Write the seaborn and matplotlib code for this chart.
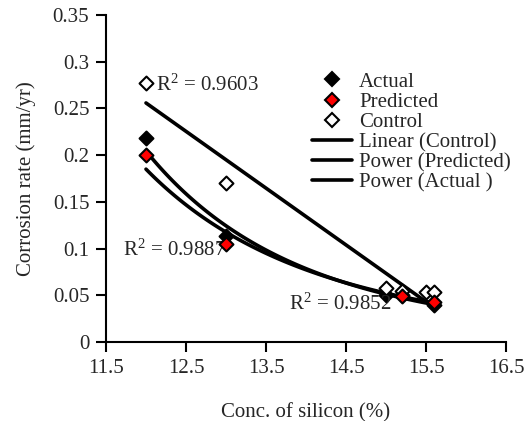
import numpy as np
import pandas as pd
import matplotlib
matplotlib.use("Agg")
import matplotlib.pyplot as plt
import seaborn as sns
from matplotlib.lines import Line2D

# ---- data ----
actual_x = [12.0, 13.0, 15.0, 15.2, 15.6]
actual_y = [0.218, 0.113, 0.050, 0.050, 0.040]
pred_x = [12.0, 13.0, 15.2, 15.6]
pred_y = [0.200, 0.105, 0.049, 0.043]
ctrl_x = [12.0, 13.0, 15.0, 15.2, 15.5, 15.6]
ctrl_y = [0.277, 0.170, 0.058, 0.055, 0.053, 0.053]
r2_labels = ["0.9603", "0.9887", "0.9852"]
x_ticks = [11.5, 12.5, 13.5, 14.5, 15.5, 16.5]
y_ticks = [0, 0.05, 0.1, 0.15, 0.2, 0.25, 0.3, 0.35]

sns.set_style("ticks")
plt.rcParams["font.family"] = ["Liberation Serif", "DejaVu Serif"]
plt.rcParams["mathtext.fontset"] = "custom"
plt.rcParams["mathtext.rm"] = "Liberation Serif"
plt.rcParams["mathtext.it"] = "Liberation Serif:italic"

FS = 15

fig = plt.figure(figsize=(5.26, 4.21), dpi=100)
ax = fig.add_axes([0.2015, 0.1876, 0.7605, 0.7768])

# trend lines (fits computed from the data)
def linear_fit(x, y):
    c = np.polyfit(x, y, 1)
    xs = np.linspace(min(x), max(x), 100)
    return xs, np.polyval(c, xs)

def power_fit(x, y):
    c = np.polyfit(np.log(x), np.log(y), 1)
    xs = np.linspace(min(x), max(x), 100)
    return xs, np.exp(c[1]) * xs ** c[0]

lx, ly = linear_fit(ctrl_x, ctrl_y)
px, py = power_fit(pred_x, pred_y)
axx, ayy = power_fit(actual_x, actual_y)

lw = 2.6
sns.lineplot(x=lx, y=ly, ax=ax, color="black", lw=lw, zorder=2)
sns.lineplot(x=px, y=py, ax=ax, color="black", lw=lw, zorder=2)
sns.lineplot(x=axx, y=ayy, ax=ax, color="black", lw=lw, zorder=2)

ms = 50
sns.scatterplot(x=actual_x, y=actual_y, ax=ax, marker="D", s=ms, color="black",
                edgecolor="black", linewidth=1.5, zorder=3)
sns.scatterplot(x=pred_x, y=pred_y, ax=ax, marker="D", s=ms, color="red",
                edgecolor="black", linewidth=1.5, zorder=4)
sns.scatterplot(x=ctrl_x, y=ctrl_y, ax=ax, marker="D", s=ms, color="white",
                edgecolor="black", linewidth=1.5, zorder=3)

ax.set_xlim(11.5, 16.5)
ax.set_ylim(0, 0.35)
ax.set_xticks(x_ticks)
ax.set_yticks(y_ticks)
ax.set_xticklabels([f"{v:g}" for v in x_ticks], fontsize=FS)
ax.set_yticklabels([f"{v:g}" for v in y_ticks], fontsize=FS)
ax.tick_params(axis="both", direction="out", length=7, width=1.5, color="black", pad=5)
for s in ["top", "right"]:
    ax.spines[s].set_visible(False)
for s in ["left", "bottom"]:
    ax.spines[s].set_linewidth(1.5)
    ax.spines[s].set_color("black")

ax.set_xlabel("Conc. of silicon (%)", fontsize=FS, labelpad=18)
ax.set_ylabel("Corrosion rate (mm/yr)", fontsize=FS, labelpad=12)

# R^2 annotations
ax.text(12.13, 0.275, "R$^2$ = " + r2_labels[0], fontsize=FS, va="center", ha="left")
ax.text(11.71, 0.0985, "R$^2$ = " + r2_labels[1], fontsize=FS, va="center", ha="left")
ax.text(13.79, 0.040, "R$^2$ = " + r2_labels[2], fontsize=FS, va="center", ha="left")

handles = [
    Line2D([], [], ls="none", marker="D", ms=7, mfc="black", mec="black", mew=1.5),
    Line2D([], [], ls="none", marker="D", ms=7, mfc="red", mec="black", mew=1.5),
    Line2D([], [], ls="none", marker="D", ms=7, mfc="white", mec="black", mew=1.5),
    Line2D([], [], color="black", lw=lw),
    Line2D([], [], color="black", lw=lw),
    Line2D([], [], color="black", lw=lw),
]
labels = ["Actual", "Predicted", "Control", "Linear (Control)",
          "Power (Predicted)", "Power (Actual )"]
fig.legend(handles, labels, loc="upper left", bbox_to_anchor=(312 / 526, 1 - 72 / 421),
           frameon=False, fontsize=FS, borderpad=0, labelspacing=0.03,
           handlelength=1.9, handletextpad=0.35, borderaxespad=0)

fig.savefig("out.png", dpi=100)
